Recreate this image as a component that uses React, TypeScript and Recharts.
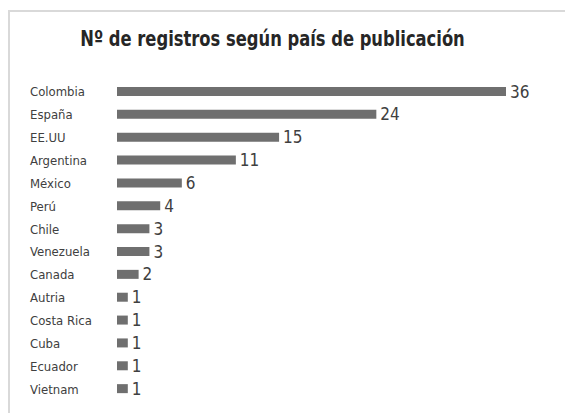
import React from 'react';
import { BarChart, Bar, XAxis, YAxis, LabelList } from 'recharts';

const countries = [
  'Colombia', 'España', 'EE.UU', 'Argentina', 'México', 'Perú', 'Chile',
  'Venezuela', 'Canada', 'Autria', 'Costa Rica', 'Cuba', 'Ecuador', 'Vietnam',
];
const registros = [36, 24, 15, 11, 6, 4, 3, 3, 2, 1, 1, 1, 1, 1];

const data = countries.map((pais, i) => ({ pais, valor: registros[i] }));

const FONT = '"DejaVu Sans Condensed", "Liberation Sans", Arial, sans-serif';

function CountryTick({ y, payload }: any) {
  return (
    <text x={30} y={y} dy={5} textAnchor="start" fontSize={13} fill="#404040" fontFamily={FONT}>
      {payload.value}
    </text>
  );
}

export default function App() {
  return (
    <div style={{ position: 'absolute', left: 0, top: 0, width: 565, height: 413, background: '#fff', overflow: 'hidden' }}>
      <div
        style={{
          position: 'absolute', left: 8, top: 10, width: 600, height: 450,
          border: '2px solid #d9d9d9', boxSizing: 'border-box',
        }}
      />
      <div
        style={{
          position: 'absolute', left: 0, top: 27, width: 545, textAlign: 'center',
          fontFamily: FONT, fontWeight: 'bold', fontSize: 21, color: '#262626',
          transform: 'scaleX(0.865)', transformOrigin: '272.5px 0',
        }}
      >
        Nº de registros según país de publicación
      </div>
      <BarChart
        width={565}
        height={413}
        data={data}
        layout="vertical"
        margin={{ top: 80, right: 59, bottom: 13, left: 0 }}
        style={{ position: 'absolute', left: 0, top: 0 }}
      >
        <XAxis type="number" domain={[0, 36]} hide />
        <YAxis
          type="category"
          dataKey="pais"
          width={117}
          axisLine={false}
          tickLine={false}
          tick={<CountryTick />}
          interval={0}
        />
        <Bar dataKey="valor" fill="#6f6f6f" barSize={9} isAnimationActive={false}>
          <LabelList
            dataKey="valor"
            position="right"
            offset={4}
            fill="#404040"
            fontSize={17}
            fontFamily={FONT}
          />
        </Bar>
      </BarChart>
    </div>
  );
}
